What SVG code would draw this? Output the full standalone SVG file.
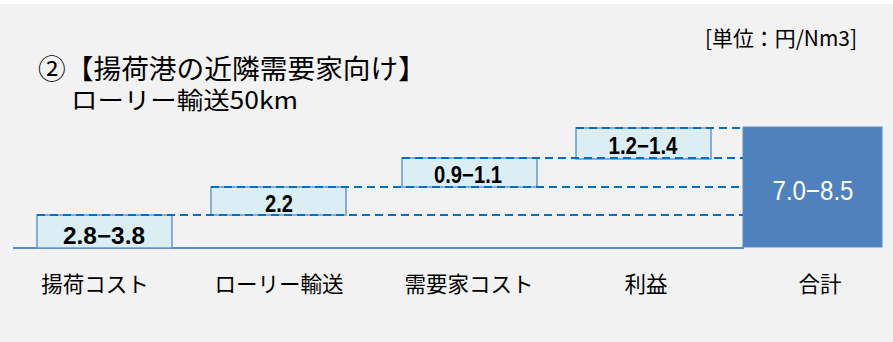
<svg xmlns="http://www.w3.org/2000/svg" width="893" height="342" viewBox="0 0 893 342">
<style>
.bg{fill:#f2f2f2}
.box{fill:#dbeef4;stroke:#6a96cc;stroke-width:1.5}
.total{fill:#4f81bd;stroke:#5b8cc6;stroke-width:1}
.dash{stroke:#0070c0;stroke-width:2;stroke-dasharray:8 5;fill:none}
.base{stroke:#5b8cc6;stroke-width:2;fill:none}
.num{font-family:"Liberation Sans",Arial,sans-serif;font-weight:bold;font-size:24px;fill:#000;text-anchor:middle}
.tot{font-family:"Liberation Sans",Arial,sans-serif;font-size:27px;fill:#fff;text-anchor:middle}
.jp{font-family:"Noto Sans CJK JP","Noto Sans",sans-serif;fill:#000}
.cat{font-size:21.5px;text-anchor:middle}
</style>
<rect x="0" y="0" width="893" height="342" fill="#ffffff"/>
<rect class="bg" x="0" y="4" width="893" height="338"/>
<g id="title">
<text class="jp" x="38" y="79" font-size="27" textLength="388" lengthAdjust="spacingAndGlyphs">②【揚荷港の近隣需要家向け】</text>
<text class="jp" x="71" y="109" font-size="24" textLength="227" lengthAdjust="spacingAndGlyphs">ローリー輸送50km</text>
</g>
<g id="unit">
<text class="jp" x="705" y="46" font-size="21" textLength="152" lengthAdjust="spacingAndGlyphs">[単位：円/Nm3]</text>
</g>
<g id="baseline">
<line class="base" x1="13" y1="248" x2="744" y2="248"/>
</g>
<g id="node-unloading">
<rect class="box" x="37" y="215" width="135" height="33"/>
<text class="num" x="104" y="244" textLength="82" lengthAdjust="spacingAndGlyphs">2.8−3.8</text>
<text class="jp cat" x="95" y="292">揚荷コスト</text>
</g>
<g id="node-lorry">
<rect class="box" x="211" y="187" width="135" height="28"/>
<text class="num" x="279" y="212" textLength="28" lengthAdjust="spacingAndGlyphs">2.2</text>
<text class="jp cat" x="279" y="292">ローリー輸送</text>
</g>
<g id="node-customer">
<rect class="box" x="402" y="158" width="135" height="29"/>
<text class="num" x="468" y="183" textLength="68" lengthAdjust="spacingAndGlyphs">0.9−1.1</text>
<text class="jp cat" x="469" y="292">需要家コスト</text>
</g>
<g id="node-profit">
<rect class="box" x="576" y="128" width="135" height="31"/>
<text class="num" x="643" y="154" textLength="69" lengthAdjust="spacingAndGlyphs">1.2−1.4</text>
<text class="jp cat" x="646" y="292">利益</text>
</g>
<g id="node-total">
<rect class="total" x="743" y="127" width="139" height="120"/>
<text class="tot" x="813" y="200" textLength="81" lengthAdjust="spacingAndGlyphs">7.0−8.5</text>
<text class="jp cat" x="820" y="292">合計</text>
</g>
<g id="connectors">
<line class="dash" x1="37" y1="215" x2="743" y2="215"/>
<line class="dash" x1="211" y1="187" x2="743" y2="187"/>
<line class="dash" x1="402" y1="158" x2="743" y2="158"/>
<line class="dash" x1="576" y1="128" x2="743" y2="128"/>
</g>
</svg>
